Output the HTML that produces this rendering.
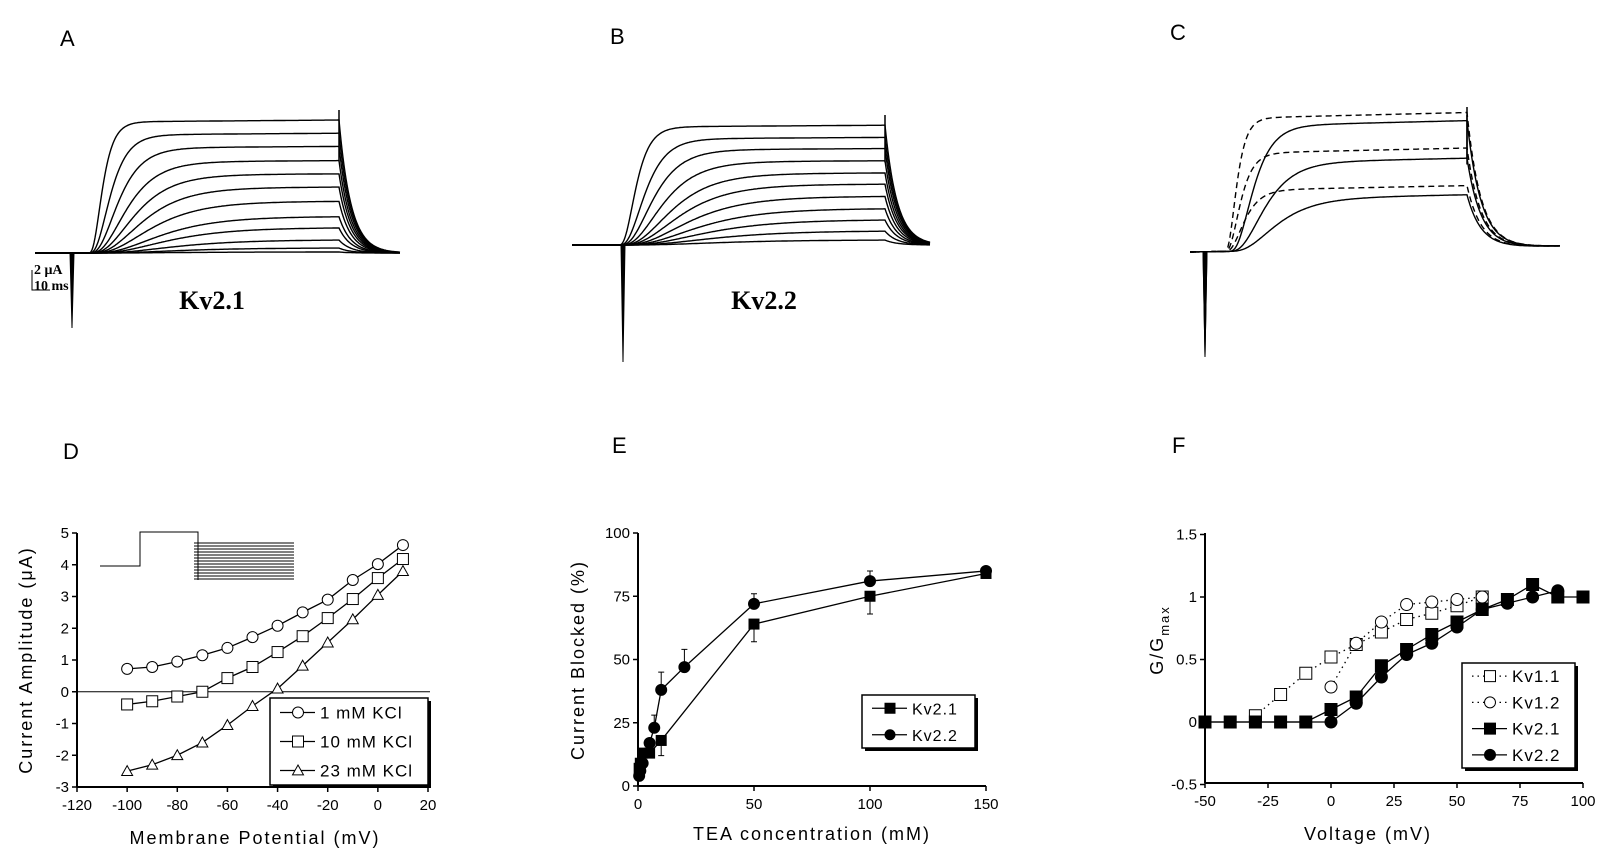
<!DOCTYPE html>
<html><head><meta charset="utf-8"><style>
body{margin:0;background:#fff}
svg{display:block;font-family:"Liberation Sans",sans-serif}
.tk{font-size:15px}
.ttl{font-size:18px;letter-spacing:2px}
.pl{font-size:22px}
</style></head><body>
<svg id="fig" width="1598" height="864" viewBox="0 0 1598 864"></svg>
<script>
// ---------- data ----------
const traceA = [13.1,11.8,10.5,9.1,7.8,6.5,5.1,3.6,2.5,1.3,0.5,0.1];
const traceB = [11.8,10.6,9.5,8.3,7.1,6.0,4.8,3.6,2.5,1.4,0.5];
const traceCdash = [13.3,9.8,6.1];
const traceCsolid = [12.5,8.8,5.2];
const dV = [-100,-90,-80,-70,-60,-50,-40,-30,-20,-10,0,10];
const d1mM = [0.72,0.78,0.95,1.15,1.38,1.72,2.08,2.5,2.9,3.52,4.02,4.62];
const d10mM = [-0.4,-0.3,-0.15,0.0,0.43,0.78,1.25,1.75,2.32,2.92,3.58,4.18];
const d23mM = [-2.5,-2.3,-2.0,-1.6,-1.05,-0.45,0.1,0.82,1.55,2.28,3.05,3.8];
const dXTicks = [-120,-100,-80,-60,-40,-20,0,20];
const dYTicks = [-3,-2,-1,0,1,2,3,4,5];
const eKv21x = [0.5,1,2,5,10,50,100,150];
const eKv21y = [7,9,13,13,18,64,75,84];
const eKv21err = [0,0,0,0,6,7,7,0];
const eKv22x = [0.5,1,2,5,7,10,20,50,100,150];
const eKv22y = [4,6,9,17,23,38,47,72,81,85];
const eKv22err = [0,0,0,0,5,7,7,4,4,0];
const eXTicks = [0,50,100,150];
const eYTicks = [0,25,50,75,100];
const fKv11x = [-30,-20,-10,0,10,20,30,40,50,60];
const fKv11y = [0.05,0.22,0.39,0.52,0.62,0.72,0.82,0.87,0.93,1.0];
const fKv12x = [0,10,20,30,40,50,60];
const fKv12y = [0.28,0.63,0.80,0.94,0.96,0.98,1.0];
const fKv21x = [-50,-40,-30,-20,-10,0,10,20,30,40,50,60,70,80,90,100];
const fKv21y = [0,0,0,0,0,0.1,0.2,0.45,0.58,0.7,0.8,0.9,0.98,1.1,1.0,1.0];
const fKv22x = [-50,0,10,20,30,40,50,60,70,80,90];
const fKv22y = [0,0,0.15,0.36,0.54,0.63,0.76,0.9,0.95,1.0,1.05];
const fXTicks = [-50,-25,0,25,50,75,100];
const fYTicks = [-0.5,0,0.5,1,1.5];

const NS="http://www.w3.org/2000/svg";
const svg=document.getElementById('fig');
function mk(tag,attrs,parent){const e=document.createElementNS(NS,tag);for(const k in attrs)e.setAttribute(k,attrs[k]);(parent||svg).appendChild(e);return e;}
function txt(x,y,s,cls,anchor,parent,rot){const t=mk('text',{x:x,y:y,class:cls,'text-anchor':anchor||'middle'},parent);if(rot)t.setAttribute('transform','rotate(-90 '+x+' '+y+')');t.textContent=s;return t;}
function lin(a,b){return v=>a[1]+(v-a[0])*(b[1]-a[1])/(b[0]-a[0]);}

// panel letters
[['A',60,46],['B',610,44],['C',1170,40],['D',63,459],['E',612,453],['F',1172,453]].forEach(p=>{
  const t=txt(p[1],p[2],p[0],'pl','start');
  
  
});

// ---------- current traces ----------
function traces(cfg,levels,name,dash,tauMin,tauK){
  const g=mk('g',{});
  
  
  const max=Math.max(...levels);
  const pxPerUA=10;
  levels.forEach((L,i)=>{
    const tau=tauMin+(1-L/max)*tauK;
    let d='';
    for(let x=cfg.x0;x<=cfg.x1;x+=1){
      let v=0;
      if(x>cfg.on&&x<=cfg.end){const f=1-Math.exp(-(x-cfg.on)/tau);v=L*Math.pow(f,4)*(1+0.015*(x-cfg.on)/(cfg.end-cfg.on));}
      else if(x>cfg.end){const Le=L*Math.pow(1-Math.exp(-(cfg.end-cfg.on)/tau),4)*1.015;v=Le*Math.exp(-(x-cfg.end)/cfg.td);}
      const y=cfg.base+ (cfg.tilt||0)*(x-cfg.x0)/(cfg.x1-cfg.x0) - v*pxPerUA;
      d+=(x===cfg.x0?'M':'L')+x+' '+y.toFixed(1);
    }
    const p=mk('path',{d:d,fill:'none',stroke:'#000','stroke-width':1.4,'stroke-dasharray':dash?'6 4':'none'},g);
    
    
  });
  mk('path',{d:`M${cfg.sx-2} ${cfg.base}L${cfg.sx} ${cfg.sy}L${cfg.sx+2} ${cfg.base}Z`,fill:'#000',stroke:'#000','stroke-width':1},g);
  mk('line',{x1:cfg.end,y1:cfg.base-max*10-12,x2:cfg.end,y2:cfg.base-max*10*0.7,stroke:'#000','stroke-width':1.5},g);
  return g;
}
traces({x0:35,x1:400,on:88,end:339,td:12,base:253,sx:72,sy:328},traceA,'kv21-traces',false,8,45);
traces({x0:572,x1:930,on:618,end:885,td:12,base:245,sx:623,sy:362},traceB,'kv22-traces',false,10,50);
traces({x0:1190,x1:1560,on:1224,end:1467,td:14,base:252,tilt:-6,sx:1205,sy:357},traceCdash,'c-dashed-traces',true,7,8);
traces({x0:1190,x1:1560,on:1228,end:1467,td:14,base:252,tilt:-6,sx:1205,sy:357},traceCsolid,'c-solid-traces',false,14,22);

const sb=mk('path',{d:'M32 270L32 290L50 290',fill:'none',stroke:'#000','stroke-width':1});

let t=txt(34,274,'2 μA','tk','start');t.setAttribute('style','font-family:"Liberation Serif",serif;font-size:14px;font-weight:bold');
t=txt(34,290,'10 ms','tk','start');t.setAttribute('style','font-family:"Liberation Serif",serif;font-size:14px;font-weight:bold');
t=txt(212,309,'Kv2.1','','middle');t.setAttribute('style','font-family:"Liberation Serif",serif;font-size:26px;font-weight:bold');
t=txt(764,309,'Kv2.2','','middle');t.setAttribute('style','font-family:"Liberation Serif",serif;font-size:26px;font-weight:bold');

// ---------- axes helper ----------
function axes(o){
  const g=mk('g',{});
  
  
  mk('line',{x1:o.px0,y1:o.py1,x2:o.px0,y2:o.py0,stroke:'#000','stroke-width':2},g);
  mk('line',{x1:o.px0,y1:o.py0,x2:o.px1,y2:o.py0,stroke:'#000','stroke-width':2},g);
  o.xt.forEach(v=>{const x=o.sx(v);mk('line',{x1:x,y1:o.py0,x2:x,y2:o.py0+5,stroke:'#000','stroke-width':1.5},g);txt(x,o.py0+23,String(v),'tk','middle',g);});
  o.yt.forEach(v=>{const y=o.sy(v);mk('line',{x1:o.px0-5,y1:y,x2:o.px0,y2:y,stroke:'#000','stroke-width':1.5},g);txt(o.px0-8,y+5,String(v),'tk','end',g);});
  return g;
}
function marker(g,type,x,y,filled,r){
  let e;
  if(type==='c')e=mk('circle',{cx:x,cy:y,r:r,fill:filled?'#000':'#fff',stroke:'#000','stroke-width':1},g);
  else if(type==='s')e=mk('rect',{x:x-r,y:y-r,width:2*r,height:2*r,fill:filled?'#000':'#fff',stroke:'#000','stroke-width':1},g);
  else e=mk('path',{d:`M${x} ${y-r}L${x+r} ${y+r*0.8}L${x-r} ${y+r*0.8}Z`,fill:'#fff',stroke:'#000','stroke-width':1},g);
  
  
}
function series(name,xs,ys,sx,sy,type,filled,r,dashed,sw){
  const g=mk('g',{});
  
  
  const d=xs.map((v,i)=>(i?'L':'M')+sx(v)+' '+sy(ys[i])).join('');
  mk('path',{d:d,fill:'none',stroke:'#000','stroke-width':sw||1.3,'stroke-dasharray':dashed?'1.5 4':'none'},g);
  xs.forEach((v,i)=>marker(g,type,sx(v),sy(ys[i]),filled,r));
  return g;
}
function legend(x,y,w,h,entries,fs){
  const g=mk('g',{});
  
  
  mk('rect',{x:x+3,y:y+3,width:w,height:h,fill:'#000'},g);
  mk('rect',{x:x,y:y,width:w,height:h,fill:'#fff',stroke:'#000','stroke-width':1.5},g);
  const step=h/entries.length;
  entries.forEach((e,i)=>{
    const eg=mk('g',{},g);
    
    
    const cy=y+step*(i+0.5);
    mk('line',{x1:x+10,y1:cy,x2:x+45,y2:cy,stroke:'#000','stroke-width':1.3,'stroke-dasharray':e.d?'1.5 4':'none'},eg);
    marker(eg,e.t,x+28,cy,e.f,e.r);
    const tt=txt(x+50,cy+6,e.l,'tk','start',eg);tt.setAttribute('style','font-size:'+fs+'px;letter-spacing:1px');
  });
}

// ---------- Panel D ----------
{
  const sx=lin([-120,77],[20,428]), sy=lin([5,533],[-3,787]);
  axes({name:'panel-d-axes',px0:77,px1:428,py0:787,py1:533,sx:sx,sy:sy,xt:dXTicks,yt:dYTicks});
  mk('line',{x1:77,y1:sy(0),x2:430,y2:sy(0),stroke:'#000','stroke-width':1});
  const ins=mk('g',{});
  mk('path',{d:'M100 566L140 566L140 532L198 532L198 580',fill:'none',stroke:'#000','stroke-width':1},ins);
  for(let i=0;i<13;i++){const y=543+i*3;mk('line',{x1:194,y1:y,x2:294,y2:y,stroke:'#000','stroke-width':1},ins);}
  series('series-1mm-kcl',dV,d1mM,sx,sy,'c',false,5.5);
  series('series-10mm-kcl',dV,d10mM,sx,sy,'s',false,5.5);
  series('series-23mm-kcl',dV,d23mM,sx,sy,'t',false,5.5);
  legend(270,698,158,87,[{t:'c',l:'1 mM KCl',r:5.5},{t:'s',l:'10 mM KCl',r:5.5},{t:'t',l:'23 mM KCl',r:5.5}],17);
  let a=txt(32,660,'Current  Amplitude  (μA)','ttl','middle',null,true);
  a=txt(255,844,'Membrane  Potential  (mV)','ttl','middle');
}
// ---------- Panel E ----------
{
  const sx=lin([0,638],[150,986]), sy=lin([0,786],[100,533]);
  axes({name:'panel-e-axes',px0:638,px1:986,py0:786,py1:533,sx:sx,sy:sy,xt:eXTicks,yt:eYTicks});
  const eg=mk('g',{});
  eKv22x.forEach((v,i)=>{if(eKv22err[i]){const x=sx(v),y1=sy(eKv22y[i]),y2=sy(eKv22y[i]+eKv22err[i]);mk('path',{d:`M${x} ${y1}L${x} ${y2}M${x-3} ${y2}L${x+3} ${y2}`,stroke:'#000',fill:'none'},eg);}});
  eKv21x.forEach((v,i)=>{if(eKv21err[i]){const x=sx(v),y1=sy(eKv21y[i]),y2=sy(eKv21y[i]-eKv21err[i]);mk('path',{d:`M${x} ${y1}L${x} ${y2}M${x-3} ${y2}L${x+3} ${y2}`,stroke:'#000',fill:'none'},eg);}});
  series('series-kv21',eKv21x,eKv21y,sx,sy,'s',true,5);
  series('series-kv22',eKv22x,eKv22y,sx,sy,'c',true,5.5);
  legend(862,695,113,53,[{t:'s',f:true,l:'Kv2.1',r:5},{t:'c',f:true,l:'Kv2.2',r:5}],16);
  let a=txt(584,660,'Current  Blocked  (%)','ttl','middle',null,true);
  a=txt(812,840,'TEA  concentration  (mM)','ttl','middle');
}
// ---------- Panel F ----------
{
  const sx=lin([-50,1205],[100,1583]), sy=lin([0,722],[1,597]);
  axes({name:'panel-f-axes',px0:1205,px1:1583,py0:783,py1:533,sx:sx,sy:sy,xt:fXTicks,yt:fYTicks});
  series('series-kv11',fKv11x,fKv11y,sx,sy,'s',false,6,true);
  series('series-kv12',fKv12x,fKv12y,sx,sy,'c',false,6,true);
  series('series-kv21-g',fKv21x,fKv21y,sx,sy,'s',true,6);
  series('series-kv22-g',fKv22x,fKv22y,sx,sy,'c',true,6);
  legend(1462,663,113,105,[{t:'s',l:'Kv1.1',d:true,r:5.5},{t:'c',l:'Kv1.2',d:true,r:5.5},{t:'s',f:true,l:'Kv2.1',r:5.5},{t:'c',f:true,l:'Kv2.2',r:5.5}],17);
  let a=mk('text',{x:1163,y:640,class:'ttl','text-anchor':'middle',transform:'rotate(-90 1163 640)'});
  
  a.innerHTML='G/G<tspan font-size="13" dy="6">max</tspan>';
  a=txt(1368,840,'Voltage  (mV)','ttl','middle');
}
</script>
</body></html>
